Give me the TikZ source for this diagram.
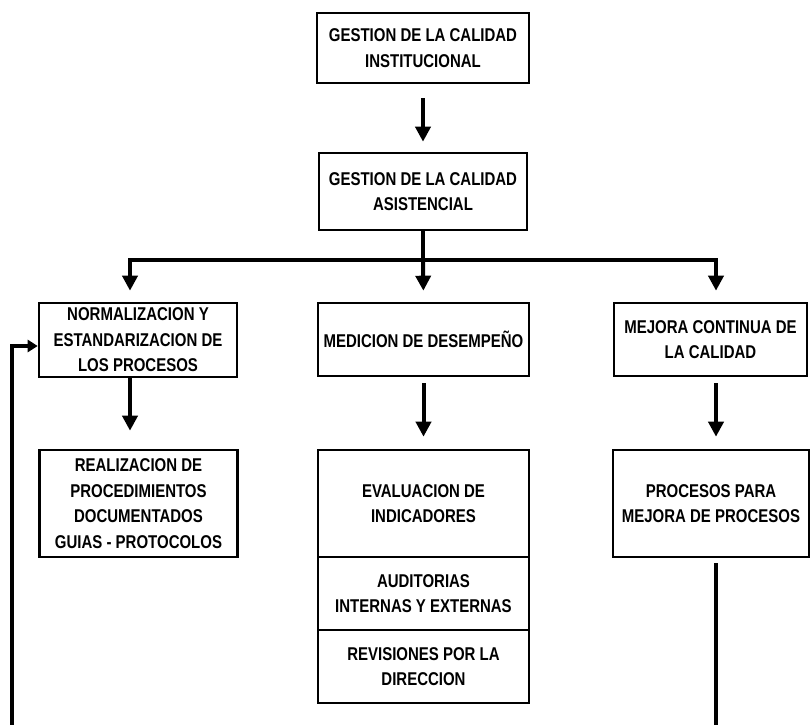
\documentclass[tikz,border=0pt]{standalone}
\usepackage{fontspec}
\setmainfont{Liberation Sans}[FakeStretch=0.81]
\usetikzlibrary{arrows.meta}
\begin{document}
\begin{tikzpicture}[x=1pt,y=-1pt,>={Triangle[width=15pt,length=15pt]},
        line join=miter,
        caja/.style={draw,line width=2.6pt,inner sep=0pt,align=center,
            font=\fontsize{18.5}{25.5}\selectfont\bfseries},
        flecha/.style={->,line width=4pt}]
        \useasboundingbox (0,0) rectangle (811,725);
        % cajas
        \node[caja,minimum width=212,minimum height=70] (inst) at (423,48) {GESTION DE LA CALIDAD\\INSTITUCIONAL};
        \node[caja,minimum width=208,minimum height=77] (asis) at (423,191.5) {GESTION DE LA CALIDAD\\ASISTENCIAL};
        \node[caja,minimum width=198,minimum height=74] (norm) at (138,340) {NORMALIZACION Y\\ESTANDARIZACION DE\\LOS PROCESOS};
        \node[caja,minimum width=211,minimum height=73] (medi) at (423.5,339.5) {MEDICION DE DESEMPE\~NO};
        \node[caja,minimum width=193,minimum height=73] (mejo) at (710.5,339.5) {MEJORA CONTINUA DE\\LA CALIDAD};
        \node[caja,minimum width=198,minimum height=107] (real) at (138.5,503.5) {REALIZACION DE\\PROCEDIMIENTOS\\DOCUMENTADOS\\GUIAS - PROTOCOLOS};
        \node[caja,minimum width=211,minimum height=107] (eval) at (423.5,503.5) {EVALUACION DE\\INDICADORES};
        \node[caja,minimum width=211,minimum height=73] (audi) at (423.5,593.5) {AUDITORIAS\\INTERNAS Y EXTERNAS};
        \node[caja,minimum width=211,minimum height=73] (revi) at (423.5,666.5) {REVISIONES POR LA\\DIRECCION};
        \node[caja,minimum width=196,minimum height=107] (proc) at (711,503.5) {PROCESOS PARA\\MEJORA DE PROCESOS};
        % conectores
        \coordinate (bus) at (423,260);
        \coordinate (busL) at (130,260);
        \coordinate (busR) at (716,260);
        \coordinate (loopL) at (12,725);
        \coordinate (loopR) at (716,725);
        \draw[flecha,shorten <=14pt,shorten >=10pt] (inst) -- (asis);
        \draw[line width=4pt] (asis.south) -- (bus);
        \draw[line width=4pt] ([xshift=-2pt]busL) -- ([xshift=2pt]busR);
        \draw[flecha,shorten >=11pt] (busL) -- (busL |- norm.north);
        \draw[flecha,shorten >=11pt] (bus) -- (medi.north);
        \draw[flecha,shorten >=11pt] (busR) -- (busR |- mejo.north);
        \draw[flecha,shorten >=18pt] (busL |- norm.south) -- (busL |- real.north);
        \draw[flecha,shorten <=6pt,shorten >=12pt] (medi) -- (eval);
        \draw[flecha,shorten <=6pt,shorten >=12pt] (busR |- mejo.south) -- (busR |- proc.north);
        \draw[line width=4pt,shorten <=5pt] (loopR |- proc.south) -- (loopR);
        \draw[->,line width=4pt,>={Triangle[width=12pt,length=10pt]}] (loopL) |- ([yshift=-6pt]norm.west);
\end{tikzpicture}
\end{document}
